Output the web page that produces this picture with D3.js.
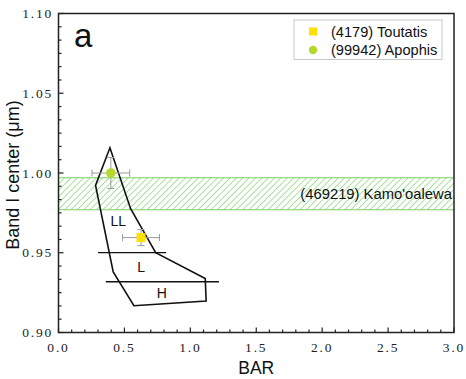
<!DOCTYPE html>
<html><head><meta charset="utf-8">
<script src="https://cdn.jsdelivr.net/npm/d3@7"></script>
<style>body{margin:0;background:#fff}svg{display:block}</style>
</head><body>
<script>
// ---- data ----
const xTicks = [0, 0.5, 1.0, 1.5, 2.0, 2.5, 3.0];
const xTickLabels = ["0.0","0.5","1.0","1.5","2.0","2.5","3.0"];
const yTicks = [0.90, 0.95, 1.00, 1.05, 1.10];
const yTickLabels = ["0.90","0.95","1.00","1.05","1.10"];
const regionX = [0.39, 0.547, 0.737, 1.113, 1.120, 0.572, 0.415, 0.281];
const regionY = [1.0158, 0.9776, 0.9500, 0.9339, 0.9197, 0.9168, 0.9380, 0.9922];
const dividerX1 = [0.30, 0.359];
const dividerX2 = [0.816, 1.217];
const dividerY = [0.9501, 0.9318];
const regionLabels = ["LL", "L", "H"];
const regionLabelX = [0.453, 0.626, 0.783];
const regionLabelY = [0.970, 0.941, 0.925];
const asteroidNames = ["(4179) Toutatis", "(99942) Apophis"];
const asteroidBAR = [0.626, 0.397];
const asteroidBand = [0.9595, 1.000];
const asteroidBARerr = [0.14, 0.143];
const asteroidBandErr = [0.005, 0.0097];
const asteroidColors = ["#FFE000", "#B5D82C"];
const bandName = "(469219) Kamo'oalewa";
const bandRange = [0.977, 0.997];

const W = 466, H = 379;
const m = {l: 58.5, r: 454, t: 13.5, b: 332.5};
const svg = d3.select("body").append("svg").attr("width", W).attr("height", H);
const x = d3.scaleLinear().domain([0, 3]).range([m.l, m.r]);
const y = d3.scaleLinear().domain([0.9, 1.1]).range([m.b, m.t]);

const defs = svg.append("defs");
defs.append("clipPath").attr("id","clip").append("rect")
  .attr("x", m.l).attr("y", m.t).attr("width", m.r - m.l).attr("height", m.b - m.t);
const pat = defs.append("pattern").attr("id","hatch").attr("patternUnits","userSpaceOnUse")
  .attr("width", 4.5).attr("height", 4.5).attr("patternTransform","rotate(45)");
pat.append("line").attr("x1",0).attr("y1",0).attr("x2",0).attr("y2",4.5)
  .attr("stroke","#7CD268").attr("stroke-width",1.3);

// band
const g = svg.append("g").attr("clip-path","url(#clip)");
g.append("rect").attr("x", m.l).attr("width", m.r - m.l)
  .attr("y", y(bandRange[1])).attr("height", y(bandRange[0]) - y(bandRange[1]))
  .attr("fill","url(#hatch)");
[bandRange[0], bandRange[1]].forEach(v => g.append("line")
  .attr("x1", m.l).attr("x2", m.r).attr("y1", y(v)).attr("y2", y(v))
  .attr("stroke","#78D064").attr("stroke-width",1.1));
svg.append("text").attr("x", m.r - 2).attr("y", y((bandRange[0]+bandRange[1])/2))
  .attr("dy","0.35em").attr("text-anchor","end")
  .attr("font-family","Liberation Sans, Arial, sans-serif").attr("font-size",14.8)
  .attr("fill","#111").text(bandName);

// region polygon
const pts = regionX.map((d,i)=>[x(d), y(regionY[i])]);
svg.append("path").attr("d", d3.line()(pts) + "Z")
  .attr("fill","none").attr("stroke","#111").attr("stroke-width",1.6).attr("stroke-linejoin","miter");
dividerY.forEach((v,i)=> svg.append("line")
  .attr("x1", x(dividerX1[i])).attr("x2", x(dividerX2[i])).attr("y1", y(v)).attr("y2", y(v))
  .attr("stroke","#111").attr("stroke-width",1.4));
regionLabels.forEach((t,i)=> svg.append("text").attr("x", x(regionLabelX[i])).attr("y", y(regionLabelY[i]))
  .attr("dy","0.35em").attr("text-anchor","middle")
  .attr("font-family","Liberation Sans, Arial, sans-serif").attr("font-size",14).attr("fill","#111").text(t));

// error bars + points
asteroidNames.forEach((n,i)=>{
  const cx = x(asteroidBAR[i]), cy = y(asteroidBand[i]);
  const x0 = x(asteroidBAR[i]-asteroidBARerr[i]), x1 = x(asteroidBAR[i]+asteroidBARerr[i]);
  const y0 = y(asteroidBand[i]-asteroidBandErr[i]), y1 = y(asteroidBand[i]+asteroidBandErr[i]);
  const eg = svg.append("g").attr("stroke","#9a9a9a").attr("stroke-width",1);
  eg.append("line").attr("x1",x0).attr("x2",x1).attr("y1",cy).attr("y2",cy);
  eg.append("line").attr("x1",cx).attr("x2",cx).attr("y1",y0).attr("y2",y1);
  eg.append("line").attr("x1",x0).attr("x2",x0).attr("y1",cy-3.5).attr("y2",cy+3.5);
  eg.append("line").attr("x1",x1).attr("x2",x1).attr("y1",cy-3.5).attr("y2",cy+3.5);
  eg.append("line").attr("x1",cx-3.5).attr("x2",cx+3.5).attr("y1",y0).attr("y2",y0);
  eg.append("line").attr("x1",cx-3.5).attr("x2",cx+3.5).attr("y1",y1).attr("y2",y1);
  if (i === 0) svg.append("rect").attr("x",cx-4.5).attr("y",cy-4.5).attr("width",9).attr("height",9).attr("fill",asteroidColors[i]);
  else svg.append("circle").attr("cx",cx).attr("cy",cy).attr("r",4.8).attr("fill",asteroidColors[i]);
});

// frame
svg.append("rect").attr("x", m.l).attr("y", m.t).attr("width", m.r-m.l).attr("height", m.b-m.t)
  .attr("fill","none").attr("stroke","#222").attr("stroke-width",1.5);

// ticks
const tg = svg.append("g").attr("stroke","#222").attr("stroke-width",1.2);
d3.range(0, 3.0001, 0.1).forEach(v=>{
  const major = Math.abs(v*2 - Math.round(v*2)) < 1e-6;
  tg.append("line").attr("x1", x(v)).attr("x2", x(v)).attr("y1", m.b).attr("y2", m.b - (major?5:3));
});
d3.range(0, 24.001, 1).forEach(k=>{
  const v = 0.9 + k*0.05/6;
  const major = k % 6 === 0;
  tg.append("line").attr("x1", m.l).attr("x2", m.l + (major?5:3)).attr("y1", y(v)).attr("y2", y(v));
});
const tickFont = "Liberation Serif, Times New Roman, serif";
xTicks.forEach((v,i)=> svg.append("text").attr("x", x(v)).attr("y", 352)
  .attr("text-anchor","middle").attr("font-family", tickFont).attr("font-size",13.5)
  .attr("letter-spacing",1.8).attr("fill","#222").text(xTickLabels[i]));
yTicks.forEach((v,i)=> svg.append("text").attr("x", 53).attr("y", y(v)).attr("dy","0.35em")
  .attr("text-anchor","end").attr("font-family", tickFont).attr("font-size",13.5)
  .attr("letter-spacing",1.8).attr("fill","#222").text(yTickLabels[i]));

// axis titles
svg.append("text").attr("x", x(1.5)).attr("y", 374).attr("text-anchor","middle")
  .attr("font-family","Liberation Sans, Arial, sans-serif").attr("font-size",17.5).attr("fill","#111").text("BAR");
svg.append("text").attr("transform","translate(18.5,175) rotate(-90)").attr("text-anchor","middle")
  .attr("font-family","Liberation Sans, Arial, sans-serif").attr("font-size",18).attr("fill","#111").text("Band I center (μm)");
svg.append("text").attr("x", 74).attr("y", 47)
  .attr("font-family","Liberation Sans, Arial, sans-serif").attr("font-size",33).attr("fill","#111").text("a");

// legend
svg.append("rect").attr("x",294).attr("y",20).attr("width",148).attr("height",39.5)
  .attr("fill","#fff").attr("stroke","#c8c8c8").attr("stroke-width",1);
const ly = [31.5, 50];
asteroidNames.forEach((n,i)=>{
  if (i===0) svg.append("rect").attr("x",309).attr("y",ly[i]-4).attr("width",8).attr("height",8).attr("fill",asteroidColors[i]);
  else svg.append("circle").attr("cx",313).attr("cy",ly[i]).attr("r",4.2).attr("fill",asteroidColors[i]);
  svg.append("text").attr("x",331).attr("y",ly[i]).attr("dy","0.35em")
    .attr("font-family","Liberation Sans, Arial, sans-serif").attr("font-size",14.6).attr("fill","#111").text(n);
});
</script>
</body></html>
